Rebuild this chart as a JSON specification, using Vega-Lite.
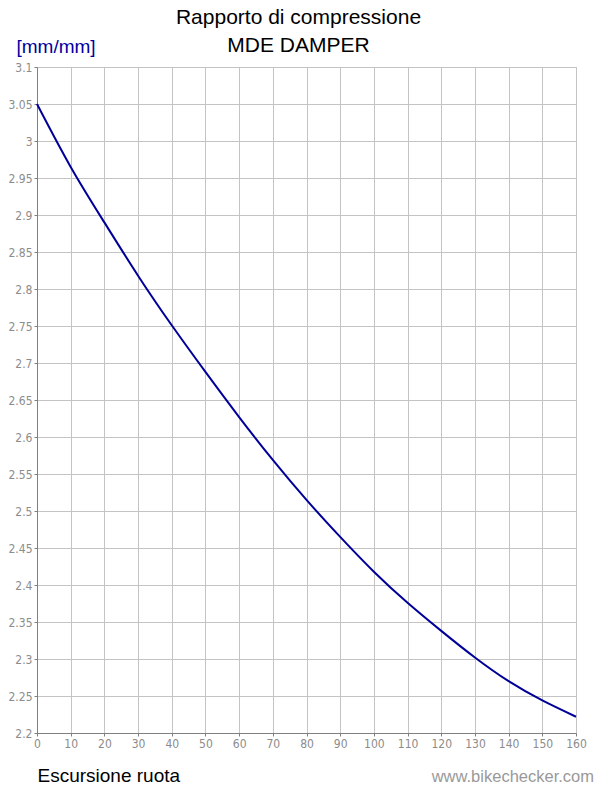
{
  "$schema": "https://vega.github.io/schema/vega-lite/v6.json",
  "autosize": "none",
  "width": 539,
  "height": 666,
  "padding": {"left": 37, "top": 67, "right": 24, "bottom": 67},
  "background": "white",
  "title": {
    "text": ["Rapporto di compressione", "MDE DAMPER"],
    "anchor": "middle",
    "frame": "group",
    "dx": -8,
    "offset": -19,
    "font": "Liberation Sans",
    "fontSize": 21,
    "fontWeight": "normal",
    "color": "black",
    "lineHeight": 28
  },
  "config": {
    "view": {"stroke": "#b8b8b8", "strokeWidth": 1},
    "axis": {
      "gridColor": "#c4c4c4",
      "gridWidth": 1,
      "domainColor": "#808080",
      "tickColor": "#808080",
      "tickSize": 3,
      "labelFont": "DejaVu Sans Condensed",
      "labelFontSize": 12,
      "labelColor": "#8c8c8c",
      "labelOverlap": false,
      "titleFont": "Liberation Sans",
      "titleFontWeight": "normal"
    }
  },
  "data": {
    "values": [
      {"x": 0, "r": 3.05},
      {"x": 10, "r": 2.965},
      {"x": 20, "r": 2.89},
      {"x": 30, "r": 2.818},
      {"x": 40, "r": 2.751},
      {"x": 50, "r": 2.688},
      {"x": 60, "r": 2.627},
      {"x": 70, "r": 2.569},
      {"x": 80, "r": 2.515},
      {"x": 90, "r": 2.465},
      {"x": 100, "r": 2.418},
      {"x": 110, "r": 2.376},
      {"x": 120, "r": 2.338},
      {"x": 130, "r": 2.302},
      {"x": 140, "r": 2.27},
      {"x": 150, "r": 2.244},
      {"x": 160, "r": 2.222}
    ]
  },
  "encoding": {
    "x": {
      "field": "x",
      "type": "quantitative",
      "scale": {"domain": [0, 160], "nice": false},
      "axis": {
        "values": [0,10,20,30,40,50,60,70,80,90,100,110,120,130,140,150,160],
        "format": "d",
        "labelPadding": 2,
        "labelFlush": false,
        "title": "Escursione ruota",
        "titleFontSize": 19,
        "titleColor": "black",
        "titleAlign": "left",
        "titleBaseline": "alphabetic",
        "titleX": 0,
        "titleY": 48
      }
    },
    "y": {
      "field": "r",
      "type": "quantitative",
      "scale": {"domain": [2.2, 3.1], "nice": false, "zero": false},
      "axis": {
        "values": [2.2,2.25,2.3,2.35,2.4,2.45,2.5,2.55,2.6,2.65,2.7,2.75,2.8,2.85,2.9,2.95,3,3.05,3.1],
        "format": ".3~g",
        "labelPadding": 2,
        "labelFlush": false,
        "title": "[mm/mm]",
        "titleFontSize": 19,
        "titleColor": "#0000a0",
        "titleAngle": 0,
        "titleAlign": "left",
        "titleBaseline": "alphabetic",
        "titleX": -21,
        "titleY": -15
      }
    }
  },
  "layer": [
    {
      "mark": {"type": "line", "color": "#000099", "strokeWidth": 2, "interpolate": "natural"}
    },
    {
      "data": {"values": [{"x": 160, "r": 2.2, "t": "www.bikechecker.com"}]},
      "mark": {"type": "text", "align": "right", "baseline": "alphabetic", "dx": 18, "dy": 49, "font": "Liberation Sans", "fontSize": 16.5, "color": "#999999", "clip": false},
      "encoding": {
        "text": {"field": "t"}
      }
    }
  ]
}
